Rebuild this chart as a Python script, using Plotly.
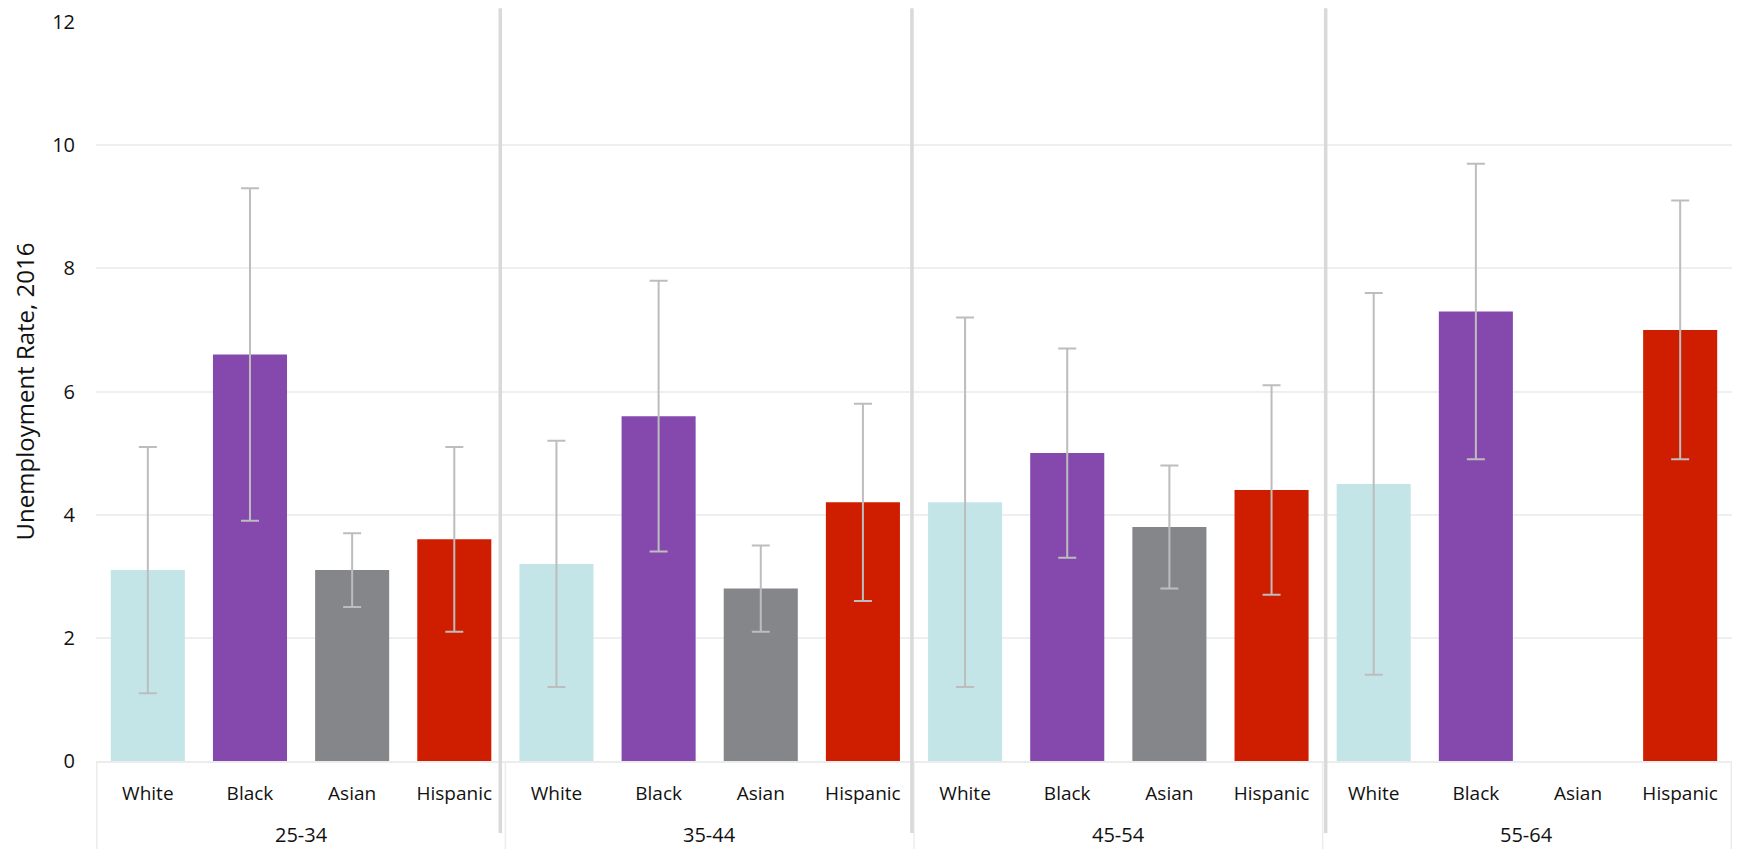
import plotly.graph_objects as go

age_groups = ["25-34", "35-44", "45-54", "55-64"]
races = ["White", "Black", "Asian", "Hispanic"]
race_colors = ["#c4e5e8", "#8549ad", "#858689", "#cf1d00"]

# Unemployment rate, 2016 (None = not shown)
rate_25_34 = [3.1, 6.6, 3.1, 3.6]
rate_35_44 = [3.2, 5.6, 2.8, 4.2]
rate_45_54 = [4.2, 5.0, 3.8, 4.4]
rate_55_64 = [4.5, 7.3, None, 7.0]

# Lower / upper ends of the error bars
low_25_34 = [1.1, 3.9, 2.5, 2.1]
low_35_44 = [1.2, 3.4, 2.1, 2.6]
low_45_54 = [1.2, 3.3, 2.8, 2.7]
low_55_64 = [1.4, 4.9, None, 4.9]

high_25_34 = [5.1, 9.3, 3.7, 5.1]
high_35_44 = [5.2, 7.8, 3.5, 5.8]
high_45_54 = [7.2, 6.7, 4.8, 6.1]
high_55_64 = [7.6, 9.7, None, 9.1]

rates = [rate_25_34, rate_35_44, rate_45_54, rate_55_64]
lows = [low_25_34, low_35_44, low_45_54, low_55_64]
highs = [high_25_34, high_35_44, high_45_54, high_55_64]

keys, tick_text, y, e_plus, e_minus, colors = [], [], [], [], [], []
for g, r_list, l_list, h_list in zip(age_groups, rates, lows, highs):
    for race, col, v, lo, hi in zip(races, race_colors, r_list, l_list, h_list):
        keys.append(f"{g} {race}")
        tick_text.append(race)
        y.append(v)
        colors.append(col)
        if v is None:
            e_plus.append(None)
            e_minus.append(None)
        else:
            e_plus.append(round(hi - v, 3))
            e_minus.append(round(v - lo, 3))

FONT = "'Open Sans', Lato, sans-serif"
TXT = "#111111"

fig = go.Figure()
fig.add_trace(go.Bar(
    x=keys,
    y=y,
    marker=dict(color=colors, line=dict(width=0)),
    error_y=dict(type="data", symmetric=False, array=e_plus, arrayminus=e_minus,
                 color="#bdbdbd", thickness=2, width=9),
    showlegend=False,
))

n_per = len(races)
n_grp = len(age_groups)
shapes = []
annotations = []
# thin box dividers below the axis (group boundaries and ends)
for i in range(n_grp + 1):
    xb = i * n_per - 0.5
    shapes.append(dict(type="line", xref="x", yref="paper",
                       x0=xb, x1=xb, y0=0, y1=-0.125,
                       line=dict(color="#ececec", width=1.5), layer="above"))
# thick separators between groups (slightly offset from the boundaries, as drawn)
sep_shift = [-0.05, -0.02, 0.03]
for i in range(1, n_grp):
    xb = i * n_per - 0.5
    shapes.append(dict(type="line", xref="x", yref="paper",
                       x0=xb, x1=xb, x0shift=sep_shift[i - 1], x1shift=sep_shift[i - 1],
                       y0=-0.0975, y1=1.0185,
                       line=dict(color="#d9d9d9", width=3.5), layer="above"))
# group labels
for i, g in enumerate(age_groups):
    annotations.append(dict(xref="x", yref="paper",
                            x=i * n_per + (n_per - 1) / 2, y=-0.1,
                            text=g, showarrow=False, yanchor="middle",
                            font=dict(family=FONT, size=20, color=TXT)))

fig.update_layout(
    width=1762, height=849,
    margin=dict(l=96, r=30, t=22, b=88, autoexpand=False),
    paper_bgcolor="white", plot_bgcolor="white",
    font=dict(family=FONT, size=20, color=TXT),
    bargap=0.275,
    shapes=shapes,
    annotations=annotations,
    xaxis=dict(
        type="category",
        tickvals=keys, ticktext=tick_text,
        showline=True, linecolor="#ececec", linewidth=1.5,
        showgrid=False, zeroline=False,
        ticks="", ticklabelstandoff=14,
        tickfont=dict(family=FONT, size=19, color=TXT),
        automargin=False,
    ),
    yaxis=dict(
        range=[0, 12], dtick=2, tick0=0,
        showgrid=True, gridcolor="#efefef", gridwidth=1.5,
        zeroline=False, showline=False,
        ticks="", ticklabelstandoff=20,
        tickfont=dict(family=FONT, size=20, color=TXT),
        title=dict(text="Unemployment Rate, 2016", standoff=10,
                   font=dict(family=FONT, size=24, color=TXT)),
        automargin=False,
    ),
)

fig.write_html("out.html", config={"displayModeBar": False},
               post_script="document.body.style.margin='0';")
